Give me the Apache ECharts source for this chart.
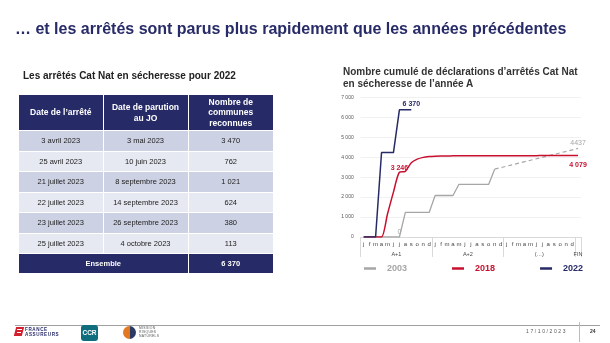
<!DOCTYPE html>
<html><head><meta charset="utf-8">
<script src="https://cdn.jsdelivr.net/npm/echarts@6/dist/echarts.min.js"></script>
<style>
html,body{margin:0;padding:0;background:#fff;}
body{width:610px;height:343px;position:relative;overflow:hidden;font-family:'Liberation Sans',Arial,sans-serif;}
#chart{position:absolute;left:0;top:0;width:610px;height:343px;}
.abs{position:absolute;white-space:nowrap;}
#title{left:15px;top:20px;font-size:16px;line-height:18px;font-weight:bold;color:#272b67;}
#ttitle{left:23px;top:70px;font-size:10px;line-height:12px;font-weight:bold;color:#222;}
#ctitle{left:343px;top:65.5px;font-size:10px;line-height:12px;font-weight:bold;color:#333;}
#tbl{position:absolute;left:18px;top:94px;width:255px;border-collapse:collapse;table-layout:fixed;}
#tbl td,#tbl th{border:1px solid #fff;text-align:center;padding:0;}
#tbl th{background:#262a66;color:#fff;font-size:8.5px;line-height:10.5px;font-weight:bold;height:35px;}
#tbl td{font-size:7.5px;color:#222;height:19.5px;}
#tbl tr.odd td{background:#cdd1e4;}
#tbl tr.even td{background:#e7e9f2;}
#tbl tr.tot td{background:#262a66;color:#fff;font-weight:bold;height:19px;}
#fline{left:15px;top:325px;width:585px;height:0;border-top:1px solid #a0a0a0;}
#fsep{left:579px;top:322px;width:0;height:20px;border-left:1px solid #bbb;}
#fdate{left:526px;top:328px;font-size:5px;letter-spacing:1.6px;color:#555;}
#fpage{left:590px;top:328px;font-size:5px;font-weight:bold;color:#333;}
</style></head>
<body>
<div id="chart"></div>
<div class="abs" id="title">… et les arrêtés sont parus plus rapidement que les années précédentes</div>
<div class="abs" id="ttitle">Les arrêtés Cat Nat en sécheresse pour 2022</div>
<div class="abs" id="ctitle">Nombre cumulé de déclarations d’arrêtés Cat Nat<br>en sécheresse de l’année A</div>
<table id="tbl"><colgroup><col style="width:84.5px"><col style="width:85px"><col style="width:85.5px"></colgroup><tbody id="tbody"></tbody></table>
<div class="abs" id="fline"></div>
<div class="abs" id="fsep"></div>
<div class="abs" id="fdate">17/10/2023</div>
<div class="abs" id="fpage">24</div>
<!-- logos -->
<div class="abs" style="left:15px;top:327px;width:8px;height:9px;background:#d4202c;transform:skewX(-15deg);"></div>
<div class="abs" style="left:17px;top:329px;width:5px;height:1px;background:#fff;"></div>
<div class="abs" style="left:17px;top:332px;width:4px;height:1px;background:#fff;"></div>
<div class="abs" style="left:25px;top:326.5px;font-size:4.6px;line-height:5px;font-weight:bold;color:#272b67;letter-spacing:0.6px;">FRANCE<br>ASSUREURS</div>
<div class="abs" style="left:81px;top:325px;width:17px;height:16px;border-radius:3px;background:#0f6d7d;color:#fff;font-size:6.5px;font-weight:bold;line-height:16px;text-align:center;">CCR</div>
<div class="abs" style="left:123px;top:326px;width:13px;height:13px;border-radius:50%;background:linear-gradient(90deg,#e2781f 50%,#2a3a63 50%);"></div>
<div class="abs" style="left:139px;top:326px;font-size:3.4px;line-height:4px;color:#555;letter-spacing:0.3px;">MISSION<br>RISQUES<br>NATURELS</div>
<script>
// ---- table data ----
const arreteDates = ['3 avril 2023','25 avril 2023','21 juillet 2023','22 juillet 2023','23 juillet 2023','25 juillet 2023'];
const parutionDates = ['3 mai 2023','10 juin 2023','8 septembre 2023','14 septembre 2023','26 septembre 2023','4 octobre 2023'];
const communes = [3470, 762, 1021, 624, 380, 113];
const tableHeaders = ['Date de l’arrêté','Date de parution<br>au JO','Nombre de<br>communes<br>reconnues'];
const totalLabel = 'Ensemble';

// ---- chart data ----
const months = ['j','f','m','a','m','j','j','a','s','o','n','d'];
const monthCats = [].concat(months, months, months, ['']);
const groupLabels = ['A+1','A+2','(…)','FIN'];
const groupLengths = [12, 12, 12, 1];
const yTicks = [0,1000,2000,3000,4000,5000,6000,7000];
const s2022 = [0,0,0,4232,4232,4232,6370,6370,6370];
const s2018 = [0,0,0,0,1150,2250,3246,3290,3720,3900,3990,4030,
               4050,4058,4062,4065,4067,4069,4070,4071,4072,4073,4074,4075,
               4075,4076,4076,4077,4077,4077,4078,4078,4078,4078,4079,4079,
               4079];
const s2003 = [0,0,0,0,0,0,0,1230,1230,1230,1230,1230,
               2080,2080,2080,2080,2640,2640,2640,2640,2640,2640,3400];
const s2003End = 4437;

const fmt = n => String(n).replace(/\B(?=(\d{3})+(?!\d))/g, ' ');

// build table
const tb = document.getElementById('tbody');
let h = '<tr>' + tableHeaders.map(t => '<th>' + t + '</th>').join('') + '</tr>';
arreteDates.forEach((d, i) => {
  h += '<tr class="' + (i % 2 === 0 ? 'odd' : 'even') + '"><td>' + d + '</td><td>' + parutionDates[i] + '</td><td>' + fmt(communes[i]) + '</td></tr>';
});
h += '<tr class="tot"><td colspan="2">' + totalLabel + '</td><td>' + fmt(communes.reduce((a, b) => a + b, 0)) + '</td></tr>';
tb.innerHTML = h;

// chart
const N = monthCats.length;
const pad = arr => arr.concat(Array(N - arr.length).fill(null));
const proj = Array(N).fill(null);
proj[s2003.length - 1] = s2003[s2003.length - 1];
proj[N - 1] = s2003End;

const seps = [-0.5];
const centers = [];
let acc = -0.5;
groupLengths.forEach(l => { centers.push(acc + l / 2); acc += l; seps.push(acc); });

const GRAY = '#a6a6a6', RED = '#c8102e', NAVY = '#262a66';
const lastIdx = (arr) => arr.length - 1;

const chart = echarts.init(document.getElementById('chart'));
chart.setOption({
  animation: false,
  textStyle: { fontFamily: 'Liberation Sans' },
  grid: { left: 360.7, right: 29, top: 97.3, bottom: 106 },
  xAxis: [
    { type: 'category', data: monthCats, boundaryGap: true,
      axisLine: { show: true, lineStyle: { color: '#d9d9d9' } },
      axisTick: { show: false },
      axisLabel: { interval: 0, fontSize: 6, color: '#444', margin: 4 } },
    { type: 'value', min: -0.5, max: 36.5, position: 'bottom',
      axisLine: { show: false }, splitLine: { show: false },
      axisTick: { show: true, customValues: seps, length: 20, lineStyle: { color: '#d9d9d9' } },
      axisLabel: { customValues: centers, fontSize: 5.5, color: '#444', margin: 14,
        formatter: v => { let b = 0; centers.forEach((c, i) => { if (Math.abs(c - v) < Math.abs(centers[b] - v)) b = i; }); return groupLabels[b]; } } }
  ],
  yAxis: { type: 'value', min: yTicks[0], max: yTicks[yTicks.length - 1], interval: 1000,
    axisLine: { show: false }, axisTick: { show: false },
    axisLabel: { fontSize: 5, color: '#555', margin: 7, formatter: v => fmt(v) },
    splitLine: { lineStyle: { color: '#eeeeee', width: 0.8 } } },
  legend: { left: 364, top: 264, padding: 0, icon: 'rect', itemWidth: 12, itemHeight: 2.5, itemGap: 45,
    selectedMode: false,
    textStyle: { fontSize: 9, fontWeight: 'bold', padding: [0, 0, 0, 6] },
    data: [ { name: '2003', textStyle: { color: GRAY } },
            { name: '2018', textStyle: { color: RED } },
            { name: '2022', textStyle: { color: NAVY } } ] },
  series: [
    { name: '2003', type: 'line', data: pad(s2003), symbol: 'circle', symbolSize: 0.01, showSymbol: true,
      lineStyle: { color: GRAY, width: 1.3 }, itemStyle: { color: GRAY }, emphasis: { disabled: true },
      label: { show: true, position: 'top', distance: 1, color: GRAY, fontSize: 7,
        formatter: p => (p.dataIndex === 6 ? fmt(s2003[6]) : '') } },
    { name: '2003', type: 'line', data: proj, connectNulls: true, symbol: 'circle', symbolSize: 0.01, showSymbol: true,
      lineStyle: { color: GRAY, width: 1.2, type: [4, 3] }, itemStyle: { color: GRAY }, emphasis: { disabled: true },
      label: { show: true, position: 'top', distance: 2, color: GRAY, fontSize: 7,
        formatter: p => (p.dataIndex === N - 1 ? String(s2003End) : '') } },
    { name: '2018', type: 'line', data: s2018, smooth: 0.25, symbol: 'circle', symbolSize: 0.01, showSymbol: true,
      lineStyle: { color: RED, width: 1.5 }, itemStyle: { color: RED }, emphasis: { disabled: true },
      label: { show: true, color: RED, fontSize: 7, fontWeight: 'bold',
        position: 'top', distance: 1,
        formatter: p => (p.dataIndex === 6 || p.dataIndex === lastIdx(s2018) ? fmt(s2018[p.dataIndex]) : '') },
      labelLayout: p => (p.dataIndex === lastIdx(s2018) ? { dy: 14 } : {}) },
    { name: '2022', type: 'line', data: pad(s2022), symbol: 'circle', symbolSize: 0.01, showSymbol: true,
      lineStyle: { color: NAVY, width: 1.5 }, itemStyle: { color: NAVY }, emphasis: { disabled: true },
      label: { show: true, position: 'top', distance: 2, color: NAVY, fontSize: 7, fontWeight: 'bold',
        formatter: p => (p.dataIndex === lastIdx(s2022) ? fmt(s2022[lastIdx(s2022)]) : '') } }
  ]
});
</script>
</body></html>
